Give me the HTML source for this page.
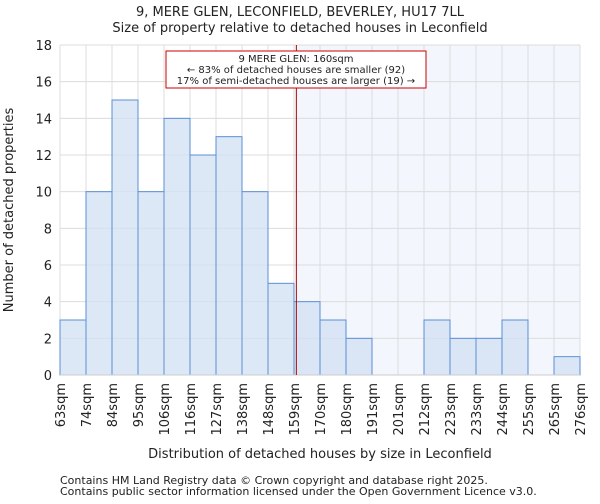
<!DOCTYPE html>
<html><head><meta charset="utf-8"><style>
body{margin:0;background:#fff;font-family:"DejaVu Sans","Liberation Sans",sans-serif;}
svg text{font-family:"DejaVu Sans","Liberation Sans",sans-serif;fill:#222;}
</style></head><body>
<svg id="chart" width="600" height="500" xmlns="http://www.w3.org/2000/svg">
<text x="300" y="16" text-anchor="middle" font-size="13">9, MERE GLEN, LECONFIELD, BEVERLEY, HU17 7LL</text>
<text x="300" y="32" text-anchor="middle" font-size="13">Size of property relative to detached houses in Leconfield</text>
<g id="plot"></g>
<text x="320" y="458" text-anchor="middle" font-size="13">Distribution of detached houses by size in Leconfield</text>
<text transform="translate(13,210) rotate(-90)" text-anchor="middle" font-size="13">Number of detached properties</text>
<text x="60" y="484" font-size="11">Contains HM Land Registry data © Crown copyright and database right 2025.</text>
<text x="60" y="495" font-size="11">Contains public sector information licensed under the Open Government Licence v3.0.</text>
</svg>
<script>
const binLabels=["63sqm","74sqm","84sqm","95sqm","106sqm","116sqm","127sqm","138sqm","148sqm","159sqm","170sqm","180sqm","191sqm","201sqm","212sqm","223sqm","233sqm","244sqm","255sqm","265sqm","276sqm"];
const counts=[3,10,15,10,14,12,13,10,5,4,3,2,0,0,3,2,2,3,0,1];
const yTicks=[0,2,4,6,8,10,12,14,16,18];
const markerIndex=9.09;
const NS="http://www.w3.org/2000/svg";
const L=60,R=580,T=45,B=375,yMax=18;
const n=counts.length,bw=(R-L)/n;
const x=i=>L+i*bw;
const y=v=>B-(v/yMax)*(B-T);
const g=document.getElementById('plot');
function mk(t,a){const e=document.createElementNS(NS,t);for(const k in a)e.setAttribute(k,a[k]);g.appendChild(e);return e;}
let e=mk('rect',{x:x(markerIndex),y:T,width:R-x(markerIndex),height:B-T,fill:'#f3f6fd'});


yTicks.forEach(v=>{let l=mk('line',{x1:L,x2:R,y1:y(v),y2:y(v),stroke:'#dcdcdc','stroke-width':1});


let t=mk('text',{x:L-8,y:y(v)+5,'text-anchor':'end','font-size':13});t.textContent=v;

});
binLabels.forEach((s,i)=>{let l=mk('line',{x1:x(i),x2:x(i),y1:T,y2:B,stroke:'#dcdcdc','stroke-width':1});


let t=mk('text',{transform:`translate(${x(i)+5},${B+8}) rotate(-90)`,'text-anchor':'end','font-size':13});t.textContent=s;

});
counts.forEach((v,i)=>{if(v<=0)return;let r=mk('rect',{x:x(i),y:y(v),width:bw,height:B-y(v),fill:'rgba(210,224,243,0.75)',stroke:'#5b8fd6','stroke-width':1});

});
e=mk('line',{x1:L,x2:R,y1:B,y2:B,stroke:'#ccc'});


e=mk('line',{x1:x(markerIndex),x2:x(markerIndex),y1:T,y2:B,stroke:'#a00','stroke-width':1});


e=mk('rect',{x:166,y:51,width:260,height:37,fill:'#fff',stroke:'#c00','stroke-width':1});


["9 MERE GLEN: 160sqm","← 83% of detached houses are smaller (92)","17% of semi-detached houses are larger (19) →"].forEach((s,i)=>{let t=mk('text',{x:296,y:62+i*11,'text-anchor':'middle','font-size':10});t.textContent=s;

});
</script>
</body></html>
